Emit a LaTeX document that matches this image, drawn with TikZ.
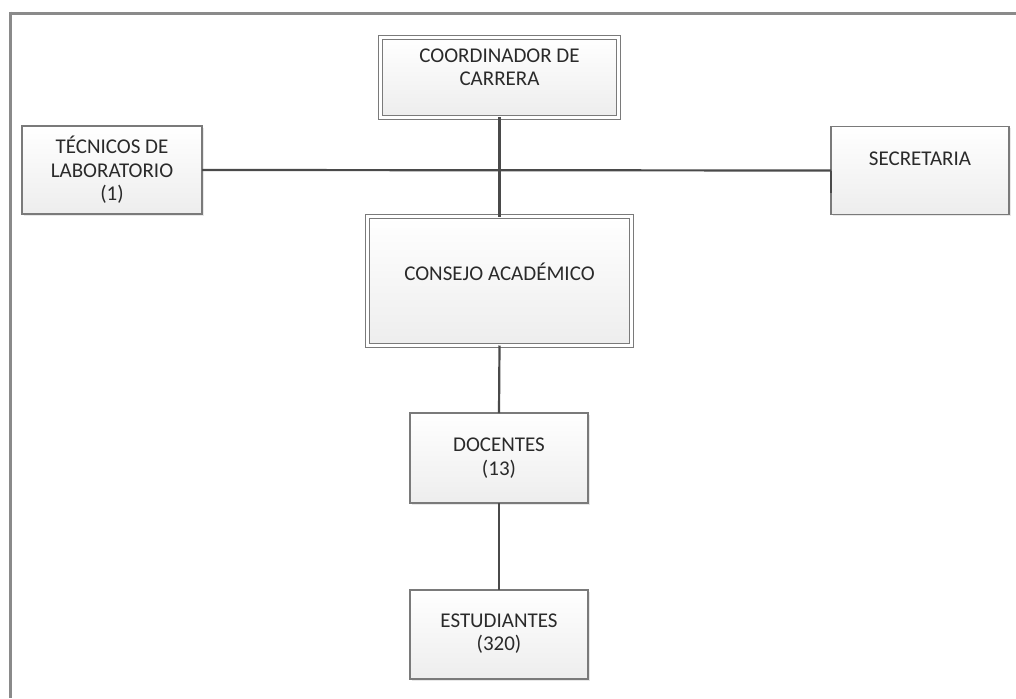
\documentclass[tikz,border=0pt]{standalone}
\usepackage{fontspec}
\setmainfont{Carlito}
\usetikzlibrary{shadows}
\definecolor{framegray}{HTML}{8A8A8A}
\definecolor{boxline}{HTML}{7A7A7A}
\definecolor{linkline}{HTML}{4A4A4A}
\definecolor{txt}{HTML}{2A2A2A}
\begin{document}
\begin{tikzpicture}[x=1pt,y=-1pt,
  box/.style={rectangle, draw=boxline, line width=1.2pt, top color=white, bottom color=black!7,
    drop shadow={shadow xshift=1.5pt, shadow yshift=-1.5pt, opacity=0.18},
    inner sep=0pt, outer sep=0pt},
  dbox/.style={box, double=white, double distance=2.6pt},
  lbl/.style={text=txt, align=center, font=\fontsize{21}{23.5}\selectfont, inner sep=0pt},
  link/.style={draw=linkline, line width=2.2pt}]
\useasboundingbox (0,0) rectangle (1016,698);
\fill[white] (0,0) rectangle (1016,698);

% outer frame (top and left edges)
\draw[framegray, line width=3.6pt] (9,13.5) -- (1016,13.5);
\draw[framegray, line width=3.6pt] (10.5,11.7) -- (10.5,698);

% boxes
\node[dbox, minimum width=238pt, minimum height=80pt] (coord) at (499.5,77.5) {};
\node[box, minimum width=180pt, minimum height=88pt] (tec) at (112,170) {};
\node[box, minimum width=178pt, minimum height=88pt] (sec) at (920,170.5) {};
\node[dbox, minimum width=264pt, minimum height=129pt] (cons) at (499.5,281) {};
\node[box, minimum width=178pt, minimum height=90pt] (doc) at (499,458) {};
\node[box, minimum width=178pt, minimum height=89pt] (est) at (499,634.5) {};

% connectors
\draw[link] (tec.east) -- (sec.west);
\draw[link] (sec.west) -- ([yshift=-22pt]sec.west);
\draw[link] (coord.south) -- (cons.north);
\draw[link] (cons.south) -- (doc.north);
\draw[link] (doc.south) -- (est.north);

% labels (yshift is in canvas points: positive moves the text up)
\node[lbl] (coordt) at ([yshift=10pt]coord.center) {COORDINADOR DE\\CARRERA};
\node[lbl] (tect) at (tec.center) {TÉCNICOS DE\\LABORATORIO\\(1)};
\node[lbl] (sect) at ([yshift=12pt]sec.center) {SECRETARIA};
\node[lbl] (const) at ([yshift=9pt]cons.center) {CONSEJO ACADÉMICO};
\node[lbl] (doct) at (doc.center) {DOCENTES\\(13)};
\node[lbl] (estt) at ([yshift=1pt]est.center) {ESTUDIANTES\\(320)};
\end{tikzpicture}
\end{document}
